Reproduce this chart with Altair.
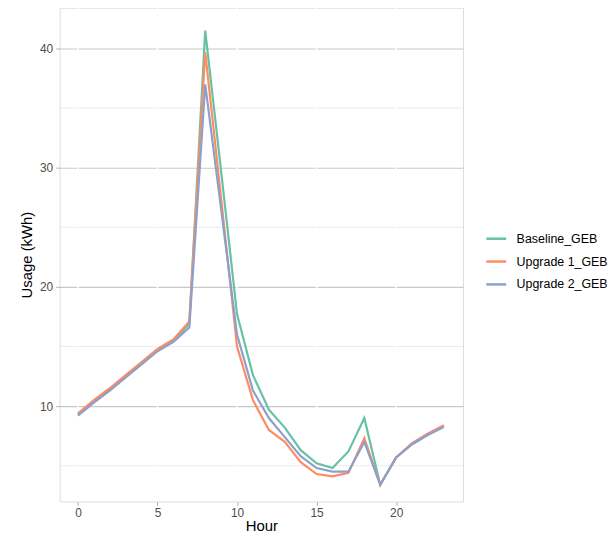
import altair as alt
import pandas as pd

hours = list(range(24))
baseline = [9.3, 10.4, 11.4, 12.5, 13.6, 14.7, 15.5, 16.9, 41.5, 29.7, 17.7, 12.6,
            9.7, 8.2, 6.3, 5.2, 4.8, 6.2, 9.0, 3.4, 5.7, 6.8, 7.6, 8.3]
upgrade1 = [9.4, 10.5, 11.5, 12.6, 13.7, 14.8, 15.6, 17.1, 39.7, 27.4, 15.0, 10.5,
            8.0, 7.0, 5.3, 4.3, 4.1, 4.4, 7.3, 3.4, 5.7, 6.9, 7.7, 8.4]
upgrade2 = [9.2, 10.3, 11.3, 12.4, 13.5, 14.6, 15.4, 16.6, 37.0, 26.5, 16.0, 11.3,
            9.0, 7.4, 5.8, 4.8, 4.5, 4.5, 7.0, 3.4, 5.7, 6.8, 7.6, 8.25]
series = ["Baseline_GEB", "Upgrade 1_GEB", "Upgrade 2_GEB"]
colors = ["#66C2A5", "#FC8D62", "#8DA0CB"]

minor_y = [5, 15, 25, 35]
major_x = [0, 5, 10, 15, 20]

rows = []
for name, vals in zip(series, [baseline, upgrade1, upgrade2]):
    for h, v in zip(hours, vals):
        rows.append({"Hour": h, "Usage": v, "Scenario": name})
df = pd.DataFrame(rows)

FONT = "Liberation Sans"
xscale = alt.Scale(domain=[-1.15, 24.2], nice=False, zero=False)
yscale = alt.Scale(domain=[2.0, 43.42], nice=False, zero=False)

minor = alt.Chart(pd.DataFrame({"y": minor_y})).mark_rule(
    color="#ebebeb", strokeWidth=1
).encode(y=alt.Y("y:Q", scale=yscale))

vgrid = alt.Chart(pd.DataFrame({"x": major_x})).mark_rule(
    color="white", strokeWidth=1.5
).encode(x=alt.X("x:Q", scale=xscale))

lines = alt.Chart(df).mark_line(strokeWidth=2.2).encode(
    x=alt.X("Hour:Q", scale=xscale, title="Hour",
            axis=alt.Axis(values=major_x, grid=False, tickColor="#b3b3b3",
                          tickSize=4, labelPadding=2, labelFontSize=12,
                          labelColor="#4d4d4d", titleFontSize=15,
                          titleFontWeight="normal", titleColor="black",
                          titlePadding=0, domain=False, labelFont=FONT,
                          titleFont=FONT)),
    y=alt.Y("Usage:Q", scale=yscale, title="Usage (kWh)",
            axis=alt.Axis(values=[10, 20, 30, 40], grid=True, gridColor="#c8c8c8",
                          gridWidth=1.1, tickColor="#b3b3b3", tickSize=4,
                          labelPadding=3, labelFontSize=12, labelColor="#4d4d4d",
                          titleFontSize=15, titleFontWeight="normal",
                          titleColor="black", titlePadding=5, domain=False,
                          labelFont=FONT, titleFont=FONT)),
    color=alt.Color("Scenario:N", scale=alt.Scale(domain=series, range=colors),
                    legend=alt.Legend(title=None, orient="none", legendX=428,
                                      legendY=221, symbolType="stroke",
                                      symbolSize=400, symbolStrokeWidth=2.5,
                                      labelFontSize=12.5, labelFont=FONT,
                                      labelColor="black", rowPadding=5,
                                      labelOffset=9, padding=0)),
)

chart = alt.layer(minor, vgrid, lines).properties(
    width=406, height=497, padding={"left": 11, "top": -3, "right": 0, "bottom": 0}
).configure_view(stroke="#d9d9d9", strokeWidth=1).configure(background="white")

chart.save("out.html", embed_options={"renderer": "svg", "actions": False})
